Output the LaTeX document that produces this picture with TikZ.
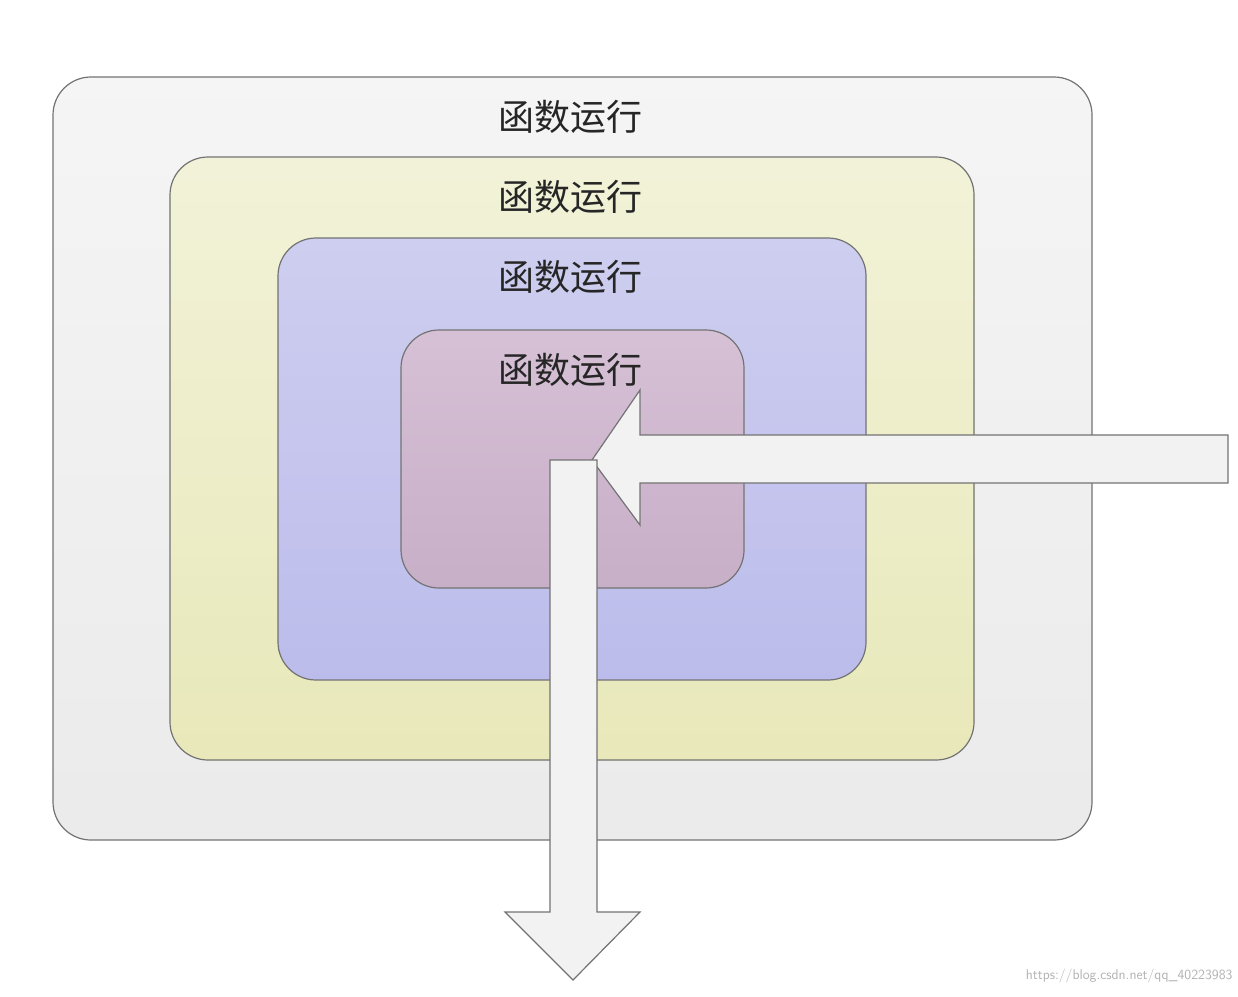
\documentclass[tikz,border=0pt]{standalone}
\usepackage{fontspec}
\newfontfamily\cjk{Noto Sans CJK SC}
\begin{document}
\begin{tikzpicture}[x=1pt,y=-1pt,
  box/.style={draw=black!55,line width=1.2pt,rounded corners=38pt},
  lbl/.style={font=\cjk\fontsize{36}{40}\selectfont,text=black!85},
  arr/.style={draw=black!55,line width=1.2pt,fill=white!95!black}]
\useasboundingbox (0,0) rectangle (1238,996);
\fill[white] (0,0) rectangle (1238,996);
\draw[box,top color=white!96!black,bottom color=white!92!black] (53,77) rectangle (1092,840);
\draw[box,fill=white!85!olive!60!yellow!80!gray,top color=white!90!olive,bottom color=white!82!olive] (170,157) rectangle (974,760);
\draw[box,top color=blue!15!white!88!gray,bottom color=blue!22!white!85!gray] (278,238) rectangle (866,680);
\draw[box,top color=violet!20!white!85!gray,bottom color=violet!25!white!75!gray] (401,330) rectangle (744,588);
\node[lbl] (t1) at (570,117) {函数运行};
\node[lbl] (t2) at (570,197) {函数运行};
\node[lbl] (t3) at (570,277) {函数运行};
\node[lbl] (t4) at (570,370) {函数运行};
\draw[arr] (1228,435) -- (640,435) -- (640,390) -- (592,460) -- (640,525) -- (640,483) -- (1228,483) -- cycle;
\draw[arr] (550,460) -- (597,460) -- (597,912) -- (640,912) -- (573,980) -- (505,912) -- (550,912) -- cycle;
\node[font=\sffamily\fontsize{14}{16}\selectfont,text=black!30,anchor=east] (wm) at (1236,976) {https://blog.csdn.net/qq\_40223983};
\end{tikzpicture}
\end{document}
